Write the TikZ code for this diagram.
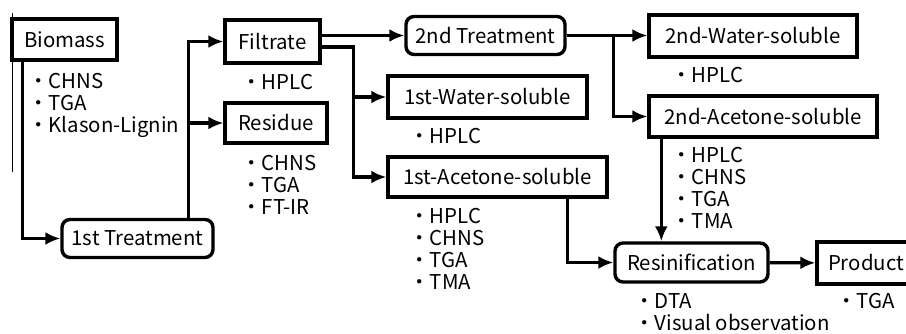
\documentclass[tikz,border=0pt]{standalone}
\usepackage{fontspec}
\setmainfont{Noto Sans CJK JP}
\usetikzlibrary{arrows.meta}

\begin{document}
\begin{tikzpicture}[x=0.5pt, y=-0.5pt,
		font=\fontsize{10.2}{11}\selectfont,
		box/.style={draw, line width=1.7pt, inner sep=0pt, minimum height=20.5pt},
		rbox/.style={box, rounded corners=4pt, minimum height=19pt},
		items/.style={anchor=north west, inner sep=0pt, align=left},
		arr/.style={line width=1.6pt, -{Latex[length=7.5pt,width=6.5pt]}}]
				\useasboundingbox (0,0) rectangle (906,333);
				
				% Boxes
				\node[box, minimum width=52.5pt] (biomass) at (64.5,39.5) {Biomass};
				\node[rbox, minimum width=75.5pt] (treat1) at (137.5,238.5) {1st Treatment};
				\node[box, minimum width=47.5pt, minimum height=21.5pt] (filtrate) at (272.5,41.5) {Filtrate};
				\node[box, minimum width=51pt, minimum height=20pt] (residue) at (276,123) {Residue};
				\node[rbox, minimum width=79.5pt] (treat2) at (485.5,35.5) {2nd Treatment};
				\node[box, minimum width=99.5pt, minimum height=21pt] (water1) at (487.5,97) {1st-Water-soluble};
				\node[box, minimum width=109.5pt, minimum height=20pt] (acetone1) at (497.5,177) {1st-Acetone-soluble};
				\node[box, minimum width=104pt, minimum height=21pt] (water2) at (753,36) {2nd-Water-soluble};
				\node[box, minimum width=114pt] (acetone2) at (763,116.5) {2nd-Acetone-soluble};
				\node[rbox, minimum width=76.5pt, minimum height=19.5pt] (resin) at (691.5,262.5) {Resinification};
				\node[box, minimum width=49pt, minimum height=21pt] (product) at (866,263) {Product};
				
				% Analyses
				\node[items] (biomassitems) at (28,73) {・CHNS\\・TGA\\・Klason-Lignin};
				\node[items] (filtrateitems) at (241,74) {・HPLC};
				\node[items] (residueitems) at (241,155) {・CHNS\\・TGA\\・FT-IR};
				\node[items] (water1items) at (409,128) {・HPLC};
				\node[items] (acetone1items) at (409,208) {・HPLC\\・CHNS\\・TGA\\・TMA};
				\node[items] (water2items) at (671,67) {・HPLC};
				\node[items] (acetone2items) at (671,147) {・HPLC\\・CHNS\\・TGA\\・TMA};
				\node[items] (resinitems) at (634,293) {・DTA\\・Visual observation};
				\node[items] (productitems) at (836,293) {・TGA};
				
				% Arrows
				\draw[arr] ([xshift=6pt]biomass.south west) |- (treat1);
				\draw[arr] ([xshift=-13pt]treat1.north east) |- (filtrate);
				\draw[arr] ([xshift=-13pt]treat1.north east) |- (residue);
				\draw[arr] (filtrate.east |- treat2) -- (treat2);
				\draw[arr] ([yshift=-2.75pt]filtrate.east) -- ++(32,0) |- (water1);
				\draw[arr] ([yshift=-2.75pt]filtrate.east) -- ++(32,0) |- (acetone1);
				\draw[arr] (treat2.east) -- (treat2.east -| water2.west);
				\draw[arr] (treat2.east) -- ++(47,0) |- (acetone2);
				\draw[arr] ([xshift=-20.5pt]acetone1.south east) |- (resin);
				\draw[arr] ([xshift=7pt]acetone2.south west) -- ([xshift=7pt]acetone2.south west |- resin.north);
				\draw[arr] (resin) -- (product);
				
				\draw[line width=0.4pt] (12,13) -- (12,172); % thin edge line
			\end{tikzpicture}
\end{document}
